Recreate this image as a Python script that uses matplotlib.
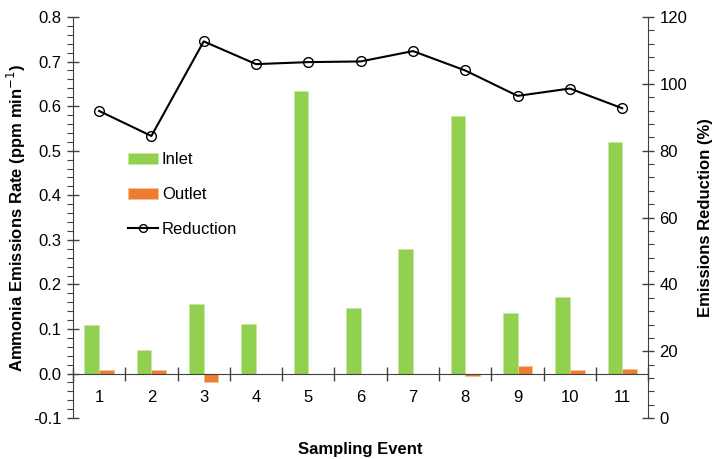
import numpy as np
import matplotlib
matplotlib.use("Agg")
import matplotlib.pyplot as plt
from matplotlib.ticker import MultipleLocator, FixedLocator, FuncFormatter

plt.rcParams['font.family'] = ['Liberation Sans Narrow', 'Liberation Sans', 'DejaVu Sans']

events = ['1', '2', '3', '4', '5', '6', '7', '8', '9', '10', '11']
inlet = [0.108, 0.054, 0.155, 0.112, 0.635, 0.148, 0.280, 0.578, 0.137, 0.172, 0.520]
outlet = [0.008, 0.008, -0.019, 0.0, 0.0, 0.0, 0.0, -0.006, 0.018, 0.008, 0.010]
reduction = [91.9, 84.4, 112.7, 105.9, 106.5, 106.7, 109.8, 104.0, 96.4, 98.6, 92.7]

x = np.arange(len(events))
w = 0.28

fig = plt.figure(figsize=(7.22, 4.59), dpi=100)
ax = fig.add_axes([0.101, 0.089, 0.797, 0.874])
ax2 = ax.twinx()

b1 = ax.bar(x - w/2, inlet, w, color='#92D050', edgecolor='#C5E8A0', linewidth=0.6, label='Inlet')
b2 = ax.bar(x + w/2, outlet, w, color='#ED7D31', edgecolor='#F7C09A', linewidth=0.6, label='Outlet')
l1, = ax2.plot(x, reduction, color='black', lw=1.5, marker='o', ms=7,
               mfc='none', mec='black', mew=1.0, label='Reduction')

ax.set_xlim(-0.5, len(events) - 0.5)
ax.set_ylim(-0.1, 0.8)
ax2.set_ylim(0, 120)

for s in ['top', 'right']:
    ax.spines[s].set_visible(False)
for s in ['top', 'left', 'bottom']:
    ax2.spines[s].set_visible(False)
ax.spines['bottom'].set_position(('data', 0))
ax.spines['bottom'].set_color('#404040')
ax.spines['left'].set_color('#404040')
ax2.spines['right'].set_color('#404040')

ax.yaxis.set_major_locator(MultipleLocator(0.1))
ax.yaxis.set_minor_locator(MultipleLocator(0.02))
ax.yaxis.set_major_formatter(FuncFormatter(lambda v, p: f"{v:.1f}"))
ax2.yaxis.set_major_locator(MultipleLocator(20))
ax2.yaxis.set_minor_locator(MultipleLocator(4))

ax.xaxis.set_major_locator(FixedLocator(np.arange(len(events) + 1) - 0.5))
ax.xaxis.set_major_formatter(FuncFormatter(lambda v, p: ''))
ax.xaxis.set_minor_locator(FixedLocator(x))
ax.set_xticklabels(events, minor=True)
ax.tick_params(axis='x', which='major', direction='inout', length=10, width=1, color='#404040')
ax.tick_params(axis='x', which='minor', length=0, labelsize=12, pad=12)

ax.tick_params(axis='y', which='major', direction='inout', length=9, width=1, color='#404040', labelsize=12)
ax.tick_params(axis='y', which='minor', direction='out', length=4, width=0.8, color='#404040')
ax2.tick_params(axis='y', which='major', direction='inout', length=9, width=1, color='#404040', labelsize=12)
ax2.tick_params(axis='y', which='minor', direction='out', length=4, width=0.8, color='#404040')

ax.set_ylabel('Ammonia Emissions Rate (ppm min$^{-1}$)', fontweight='bold', fontsize=12, labelpad=4)
ax2.set_ylabel('Emissions Reduction (%)', fontweight='bold', fontsize=12, labelpad=8)
ax.set_xlabel('Sampling Event', fontweight='bold', fontsize=12)
ax.xaxis.set_label_coords(0.5, -0.06)

ax2.legend([b1, b2, l1], ['Inlet', 'Outlet', 'Reduction'], loc='upper left',
           bbox_to_anchor=(0.069, 0.70), frameon=False, fontsize=12,
           labelspacing=1.2, handlelength=1.8, handletextpad=0.25, markerscale=0.8)

fig.savefig('out.png', dpi=100)
